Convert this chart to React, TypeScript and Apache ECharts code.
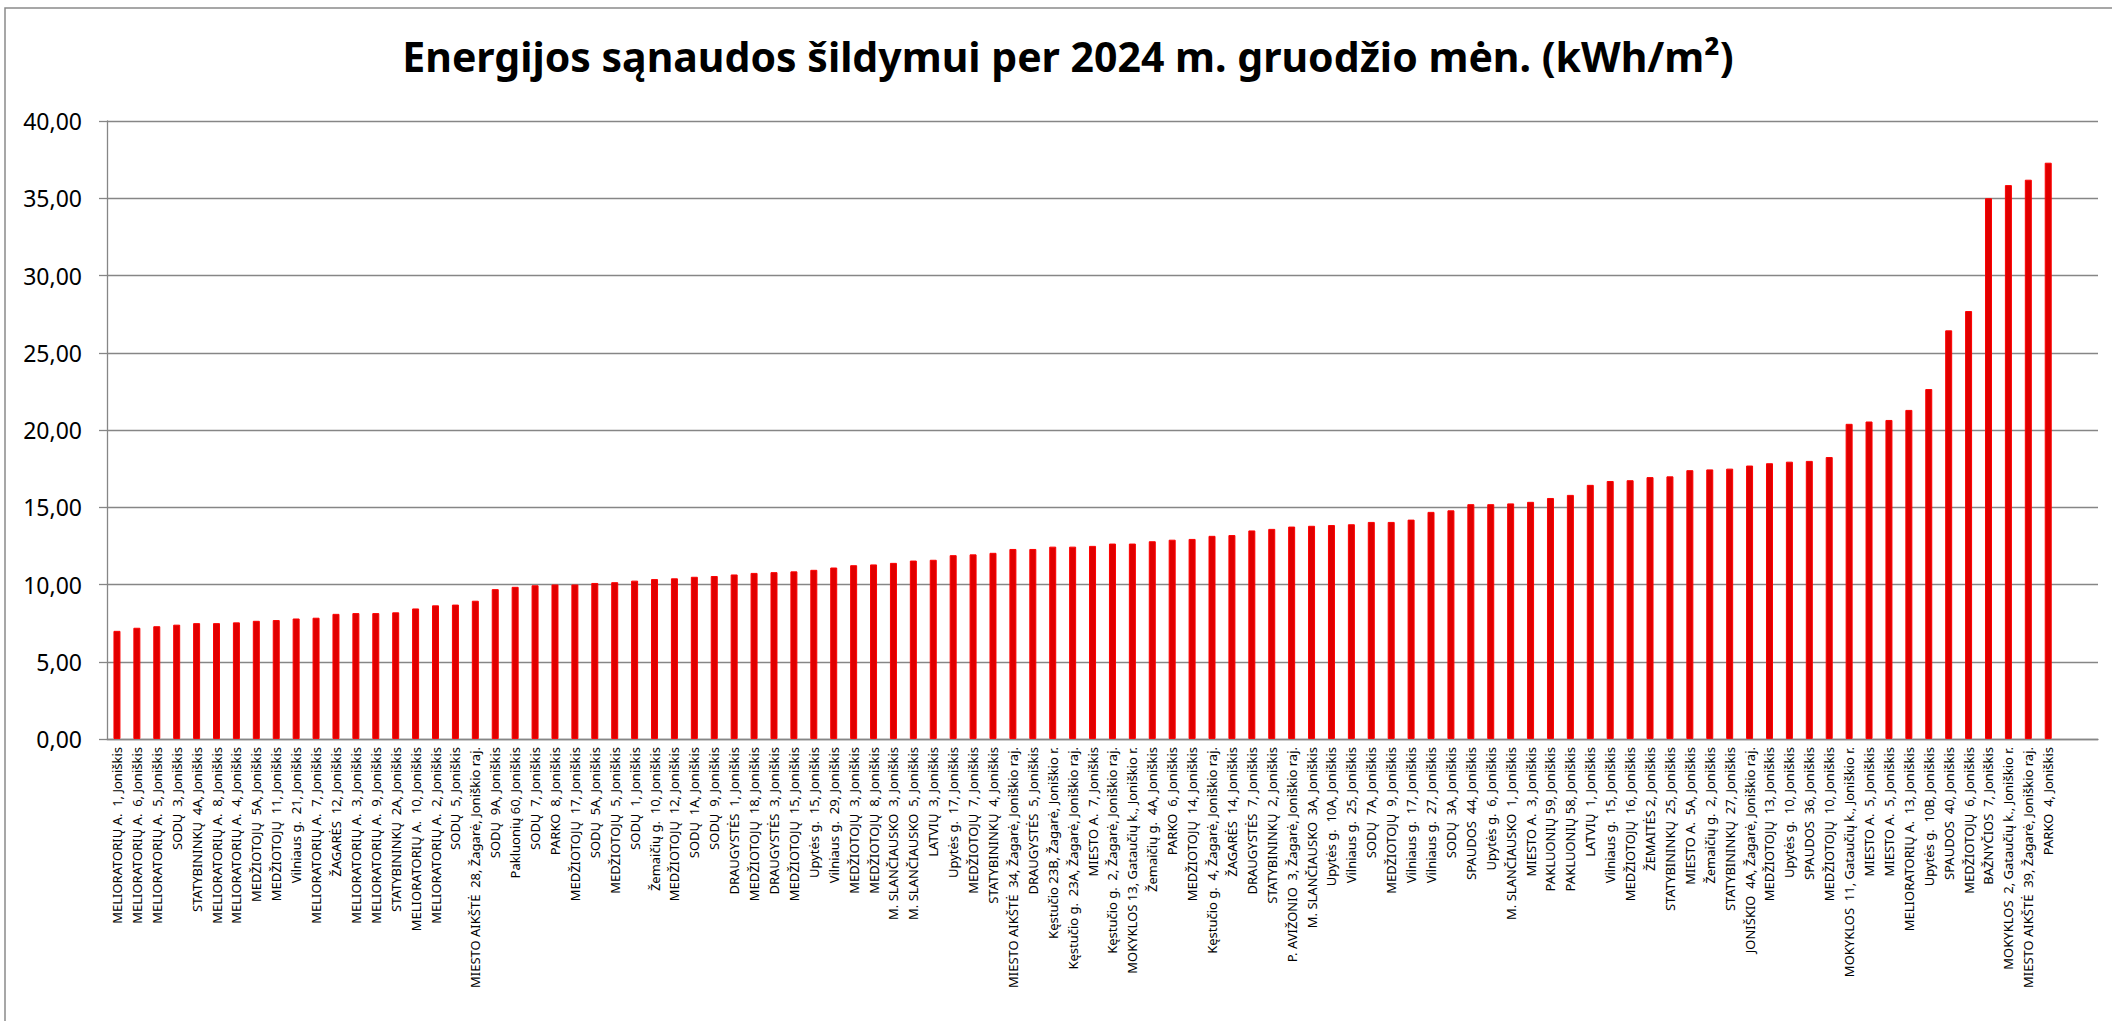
import React, { useEffect, useRef } from "react";
import * as echarts from "echarts";

const TITLE = "Energijos sąnaudos šildymui per 2024 m. gruodžio mėn. (kWh/m²)";

const categories: string[] = [
  "MELIORATORIŲ A.  1, Joniškis",
  "MELIORATORIŲ A.  6, Joniškis",
  "MELIORATORIŲ A.  5, Joniškis",
  "SODŲ  3, Joniškis",
  "STATYBININKŲ  4A, Joniškis",
  "MELIORATORIŲ A.  8, Joniškis",
  "MELIORATORIŲ A.  4, Joniškis",
  "MEDŽIOTOJŲ  5A, Joniškis",
  "MEDŽIOTOJŲ  11, Joniškis",
  "Vilniaus g.  21, Joniškis",
  "MELIORATORIŲ A.  7, Joniškis",
  "ŽAGARĖS  12, Joniškis",
  "MELIORATORIŲ A.  3, Joniškis",
  "MELIORATORIŲ A.  9, Joniškis",
  "STATYBININKŲ  2A, Joniškis",
  "MELIORATORIŲ A.  10, Joniškis",
  "MELIORATORIŲ A.  2, Joniškis",
  "SODŲ  5, Joniškis",
  "MIESTO AIKŠTĖ  28, Žagarė, Joniškio raj.",
  "SODŲ  9A, Joniškis",
  "Pakluonių 60, Joniškis",
  "SODŲ  7, Joniškis",
  "PARKO  8, Joniškis",
  "MEDŽIOTOJŲ  17, Joniškis",
  "SODŲ  5A, Joniškis",
  "MEDŽIOTOJŲ  5, Joniškis",
  "SODŲ  1, Joniškis",
  "Žemaičių g.  10, Joniškis",
  "MEDŽIOTOJŲ  12, Joniškis",
  "SODŲ  1A, Joniškis",
  "SODŲ  9, Joniškis",
  "DRAUGYSTĖS  1, Joniškis",
  "MEDŽIOTOJŲ  18, Joniškis",
  "DRAUGYSTĖS  3, Joniškis",
  "MEDŽIOTOJŲ  15, Joniškis",
  "Upytės g.  15, Joniškis",
  "Vilniaus g.  29, Joniškis",
  "MEDŽIOTOJŲ  3, Joniškis",
  "MEDŽIOTOJŲ  8, Joniškis",
  "M. SLANČIAUSKO  3, Joniškis",
  "M. SLANČIAUSKO  5, Joniškis",
  "LATVIŲ  3, Joniškis",
  "Upytės g.  17, Joniškis",
  "MEDŽIOTOJŲ  7, Joniškis",
  "STATYBININKŲ  4, Joniškis",
  "MIESTO AIKŠTĖ  34, Žagarė, Joniškio raj.",
  "DRAUGYSTĖS  5, Joniškis",
  "Kęstučio 23B, Žagarė, Joniškio r.",
  "Kęstučio g.  23A, Žagarė, Joniškio raj.",
  "MIESTO A.  7, Joniškis",
  "Kęstučio g.  2, Žagarė, Joniškio raj.",
  "MOKYKLOS 13, Gataučių k., Joniškio r.",
  "Žemaičių g.  4A, Joniškis",
  "PARKO  6, Joniškis",
  "MEDŽIOTOJŲ  14, Joniškis",
  "Kęstučio g.  4, Žagarė, Joniškio raj.",
  "ŽAGARĖS  14, Joniškis",
  "DRAUGYSTĖS  7, Joniškis",
  "STATYBININKŲ  2, Joniškis",
  "P. AVIŽONIO  3, Žagarė, Joniškio raj.",
  "M. SLANČIAUSKO  3A, Joniškis",
  "Upytės g.  10A, Joniškis",
  "Vilniaus g.  25, Joniškis",
  "SODŲ  7A, Joniškis",
  "MEDŽIOTOJŲ  9, Joniškis",
  "Vilniaus g.  17, Joniškis",
  "Vilniaus g.  27, Joniškis",
  "SODŲ  3A, Joniškis",
  "SPAUDOS  44, Joniškis",
  "Upytės g.  6, Joniškis",
  "M. SLANČIAUSKO  1, Joniškis",
  "MIESTO A.  3, Joniškis",
  "PAKLUONIŲ 59, Joniškis",
  "PAKLUONIŲ 58, Joniškis",
  "LATVIŲ  1, Joniškis",
  "Vilniaus g.  15, Joniškis",
  "MEDŽIOTOJŲ  16, Joniškis",
  "ŽEMAITĖS 2, Joniškis",
  "STATYBININKŲ  25, Joniškis",
  "MIESTO A.  5A, Joniškis",
  "Žemaičių g.  2, Joniškis",
  "STATYBININKŲ  27, Joniškis",
  "JONIŠKIO  4A, Žagarė, Joniškio raj.",
  "MEDŽIOTOJŲ  13, Joniškis",
  "Upytės g.  10, Joniškis",
  "SPAUDOS  36, Joniškis",
  "MEDŽIOTOJŲ  10, Joniškis",
  "MOKYKLOS  11, Gataučių k., Joniškio r.",
  "MIESTO A.  5, Joniškis",
  "MIESTO A.  5, Joniškis",
  "MELIORATORIŲ A.  13, Joniškis",
  "Upytės g.  10B, Joniškis",
  "SPAUDOS  40, Joniškis",
  "MEDŽIOTOJŲ  6, Joniškis",
  "BAŽNYČIOS  7, Joniškis",
  "MOKYKLOS  2, Gataučių k., Joniškio r.",
  "MIESTO AIKŠTĖ  39, Žagarė, Joniškio raj.",
  "PARKO  4, Joniškis",
  "",
  "",
];

const values: (number | null)[] = [
  7.0, 7.2, 7.3, 7.4, 7.5, 7.5, 7.55, 7.65, 7.7, 7.8,
  7.85, 8.1, 8.15, 8.15, 8.2, 8.45, 8.65, 8.7, 8.95, 9.7,
  9.85, 9.95, 10.0, 10.0, 10.1, 10.15, 10.25, 10.35, 10.4, 10.5,
  10.55, 10.65, 10.75, 10.8, 10.85, 10.95, 11.1, 11.25, 11.3, 11.4,
  11.55, 11.6, 11.9, 11.95, 12.05, 12.3, 12.3, 12.45, 12.45, 12.5,
  12.65, 12.65, 12.8, 12.9, 12.95, 13.15, 13.2, 13.5, 13.6, 13.75,
  13.8, 13.85, 13.9, 14.05, 14.05, 14.2, 14.7, 14.8, 15.2, 15.2,
  15.25, 15.35, 15.6, 15.8, 16.45, 16.7, 16.75, 16.95, 17.0, 17.4,
  17.45, 17.5, 17.7, 17.85, 17.95, 18.0, 18.25, 20.4, 20.55, 20.65,
  21.3, 22.65, 26.45, 27.7, 35.0, 35.85, 36.2, 37.3, null, null,
];

const yMin = 0;
const yMax = 40;
const yStep = 5;

export default function App() {
  const ref = useRef<HTMLDivElement>(null);

  useEffect(() => {
    if (!ref.current) return;
    const chart = echarts.init(ref.current, undefined, { renderer: "svg" });
    chart.setOption({
      animation: false,
      backgroundColor: "#ffffff",
      graphic: [
        {
          type: "rect",
          shape: { x: 5, y: 8, width: 2300, height: 1200 },
          style: { fill: "none", stroke: "#8a8a8a", lineWidth: 1.5 },
          silent: true,
        },
        {
          type: "text",
          x: 1068,
          y: 56,
          style: {
            text: TITLE,
            fill: "#000000",
            font: "bold 41px 'Noto Sans'",
            textAlign: "center",
            textVerticalAlign: "middle",
          },
        },
      ],
      grid: { left: 107, right: 14, top: 121, bottom: 282, containLabel: false },
      xAxis: {
        type: "category",
        data: categories,
        axisLine: { show: true, lineStyle: { color: "#868686", width: 1.3 } },
        axisTick: { show: false },
        axisLabel: {
          interval: 0,
          rotate: 90,
          margin: 8,
          color: "#000000",
          fontFamily: "'Noto Sans'",
          fontSize: 13,
          formatter: (v: string) => v.replace(/  /g, "\u00a0 "),
        },
      },
      yAxis: {
        type: "value",
        min: yMin,
        max: yMax,
        interval: yStep,
        axisLine: { show: true, lineStyle: { color: "#868686", width: 1.3 } },
        axisTick: { show: true, inside: false, length: 8, lineStyle: { color: "#868686", width: 1.3 } },
        splitLine: { show: true, lineStyle: { color: "#868686", width: 1.3 } },
        axisLabel: {
          margin: 25,
          color: "#000000",
          fontFamily: "'Noto Sans'",
          fontSize: 23,
          formatter: (v: number) => v.toFixed(2).replace(".", ","),
        },
      },
      series: [
        {
          type: "bar",
          data: values,
          barWidth: 7,
          itemStyle: { color: "#e00000", borderColor: "#ff0000", borderWidth: 1 },
        },
      ],
    });
    return () => chart.dispose();
  }, []);

  return (
    <div
      ref={ref}
      style={{ position: "absolute", left: 0, top: 0, width: 2112, height: 1021 }}
    />
  );
}
